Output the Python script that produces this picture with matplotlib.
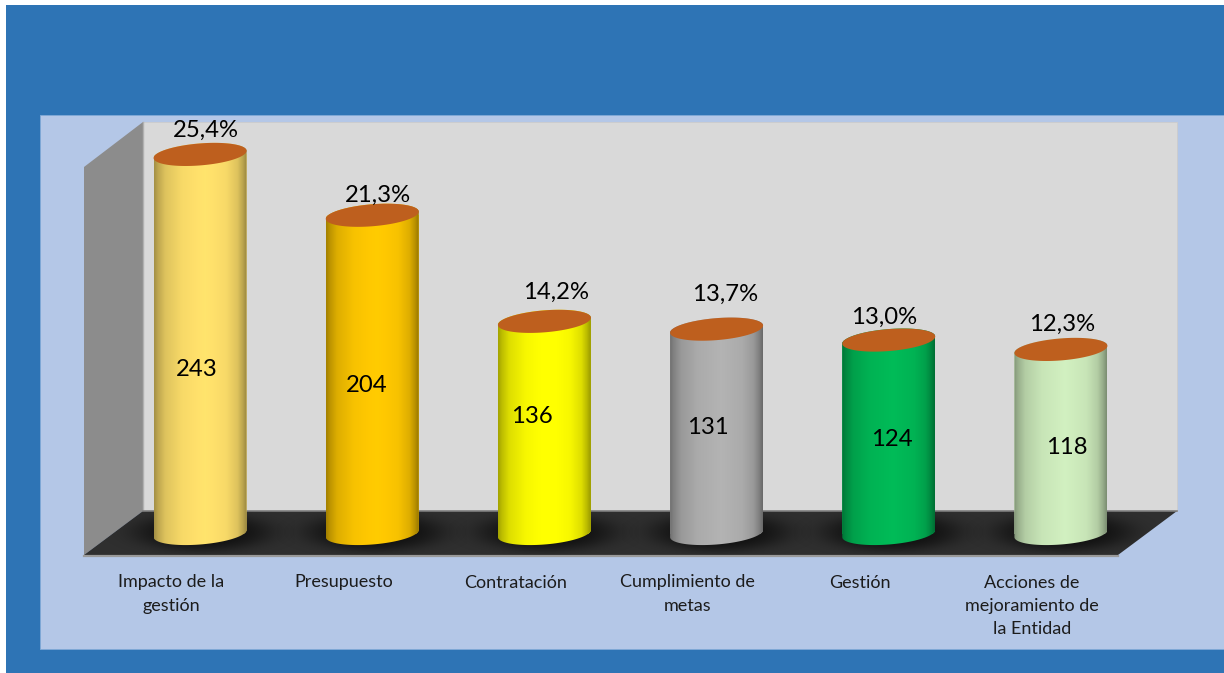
import numpy as np
import matplotlib
matplotlib.use("Agg")
import matplotlib.pyplot as plt
from matplotlib.patches import Polygon, Rectangle
from matplotlib.colors import to_rgb

# ---- data ----
categories = ["Impacto de la\ngestión", "Presupuesto", "Contratación",
              "Cumplimiento de\nmetas", "Gestión",
              "Acciones de\nmejoramiento de\nla Entidad"]
values = [243, 204, 136, 131, 124, 118]
percent_labels = ["25,4%", "21,3%", "14,2%", "13,7%", "13,0%", "12,3%"]
bar_colors = ["#FFE06B", "#FFC800", "#FFFF00", "#B0B0B0", "#00B856", "#CEECBD"]

# ---- label placement, pixels relative to each cylinder ----
pct_offsets = [(5.5, 24.5), (6, 19.5), (12, 28.5), (8.5, 34.5), (-5, 22.5), (1.5, 25.5)]
val_offsets = [(-3, -26), (-6, -11), (-13, 11.4), (-9, 4), (3, -2.5), (5.5, -6.5)]

# ---- geometry / style ----
W, H = 1224, 673
PX_PER_UNIT = 1.56
ZERO_Y = 533.5
TOP_Y = 115
LEFT, RIGHT = 85, 1118
PX_PER_CAT = (RIGHT - LEFT) / 6
DEPTH_X = 29
HALF_W = 46.5
ELL_B = 11.0
ELL_TILT = 3.6

fig = plt.figure(figsize=(W / 100, H / 100), dpi=100, facecolor="white")

# background stage, in pixel coordinates
bg = fig.add_axes([0, 0, 1, 1])
bg.set_xlim(0, W)
bg.set_ylim(H, 0)
bg.axis("off")
bg.add_patch(Rectangle((6, 5), W - 6, H - 5, fc="#2E74B5", ec="none", zorder=1))
bg.add_patch(Rectangle((40, 115), W - 40, 534, fc="#B4C7E7", ec="#7FA8D6", lw=.7, zorder=2))
bg.add_patch(Polygon([(143, 122), (1177, 122), (1177, 511), (143, 511)],
                     fc="#D9D9D9", ec="#CCCCCC", lw=.6, zorder=3))
bg.add_patch(Polygon([(84, 167), (143, 122), (143, 511), (84, 555)],
                     fc="#8C8C8C", ec="none", zorder=4))
bg.plot([143, 143], [122, 511], color="#B0B0B0", lw=1, zorder=4.5)
floor = Polygon([(84, 555), (1118, 555), (1177, 511), (143, 511)],
                fc="#2F2F2F", ec="none", zorder=5)
bg.add_patch(floor)
bg.plot([143, 1177], [511, 511], color="#808080", lw=1.2, zorder=5.1)
bg.plot([84, 1118], [555.5, 555.5], color="#9A9A9A", lw=1.6, zorder=5.1)

# chart axes: categories on the front plane of the stage, values in real units
ax = fig.add_axes([LEFT / W, 1 - ZERO_Y / H, (RIGHT - LEFT) / W, (ZERO_Y - TOP_Y) / H])
ax.patch.set_alpha(0)
for s in ax.spines.values():
    s.set_visible(False)
xpos = np.arange(len(categories))
dx = DEPTH_X / PX_PER_CAT
bar_w = 2 * HALF_W / PX_PER_CAT
ylim = (0, (ZERO_Y - TOP_Y) / PX_PER_UNIT)

bars = ax.bar(xpos + dx, values, width=bar_w, color=bar_colors, linewidth=0, zorder=2)

stops_x = [0, .04, .12, .3, .55, .78, .9, .96, 1]
stops_f = [.64, .74, .87, .97, 1.02, .97, .87, .73, .6]
t_img = np.linspace(0, 1, 180)
shade = np.interp(t_img, stops_x, stops_f)
t = np.linspace(0, 2 * np.pi, 181)


def ellipse(cx, value):
    """Tilted cap outline around the top of a value, in data units."""
    ex = HALF_W * np.cos(t)
    ey = ELL_B * np.sin(t) + (ELL_TILT / HALF_W) * ex
    return np.column_stack([cx + ex / PX_PER_CAT, value + ey / PX_PER_UNIT])


for rect, col in zip(bars, bar_colors):
    cx = rect.get_x() + rect.get_width() / 2
    v = rect.get_height()
    top = ellipse(cx, v)
    base = ellipse(cx, 0)
    lower = base[(t >= np.pi) & (t <= 2 * np.pi)]
    body = np.vstack([lower, top[t <= np.pi]])
    rgb = np.clip(np.outer(shade, to_rgb(col)), 0, 1)[None, :, :]
    clip = Polygon(body, transform=ax.transData, fc="none", ec="none", clip_on=False)
    ax.add_patch(clip)
    rect.set_clip_box(fig.bbox)
    rect.set_clip_path(clip)
    im = ax.imshow(rgb, extent=(rect.get_x(), rect.get_x() + rect.get_width(),
                                -20, v + 20),
                   aspect="auto", interpolation="bilinear", zorder=3)
    im.set_clip_box(fig.bbox)
    im.set_clip_path(clip)
    ax.add_patch(Polygon(top, fc="#BE5F1E", ec="none", zorder=4, clip_on=False))

    # soft contact shadow on the floor
    sx = LEFT + PX_PER_CAT * (cx + .5)
    gx = np.linspace(sx - 95, sx + 95, 120)
    gy = np.linspace(ZERO_Y - 32, ZERO_Y + 32, 60)
    xx, yy = np.meshgrid(gx, gy)
    a = np.exp(-(((xx - sx - 3) / 68) ** 2 + ((yy - ZERO_Y + 1) / 19) ** 2) ** 2) * .65
    rgba = np.zeros(a.shape + (4,))
    rgba[..., 3] = a
    sh = bg.imshow(rgba, extent=(gx[0], gx[-1], gy[-1], gy[0]), aspect="auto",
                   interpolation="bilinear", zorder=6)
    sh.set_clip_path(floor)

bg.set_xlim(0, W)
bg.set_ylim(H, 0)
ax.set_xlim(-.5, 5.5)
ax.set_ylim(*ylim)
ax.set_yticks([])
ax.set_xticks(xpos)
ax.set_xticklabels(categories, fontsize=13, family="Lato", color="#1C1C1C",
                   linespacing=1.56)
ax.tick_params(axis="x", length=0, pad=(574.5 - ZERO_Y) * .72)

for i, rect in enumerate(bars):
    cx = rect.get_x() + rect.get_width() / 2
    v = rect.get_height()
    ax.annotate(percent_labels[i], xy=(cx, v), xycoords="data", xytext=pct_offsets[i],
                textcoords="offset pixels", ha="center", va="center",
                fontsize=17.2, family="Lato", color="black", zorder=6)
    ax.annotate(str(values[i]), xy=(cx, v / 2), xycoords="data", xytext=val_offsets[i],
                textcoords="offset pixels", ha="center", va="center",
                fontsize=17.2, family="Lato", color="black", zorder=6)

fig.savefig("out.png", dpi=100, facecolor="white")
